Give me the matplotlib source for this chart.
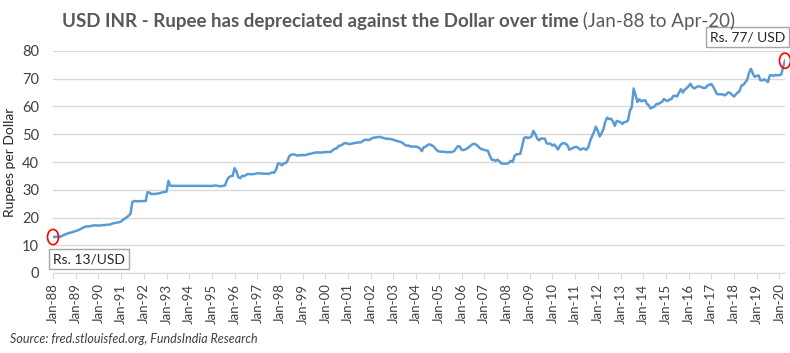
import numpy as np
import pandas as pd
import matplotlib
matplotlib.use("Agg")
import matplotlib.pyplot as plt
import matplotlib.dates as mdates
from matplotlib.patches import Ellipse

plt.rcParams['font.family'] = ['Lato', 'DejaVu Sans']

# ========== data: monthly USD/INR, Jan-88 .. Apr-20 ==========
y1988 = [12.96, 13.02, 13.08, 13.03, 13.10, 13.46, 13.76, 14.02, 14.38, 14.49, 14.66, 14.93]
y1989 = [15.12, 15.37, 15.60, 15.98, 16.35, 16.66, 16.80, 16.79, 16.92, 17.11, 17.16, 17.12]
y1990 = [17.08, 17.12, 17.25, 17.26, 17.32, 17.45, 17.43, 17.69, 17.95, 18.08, 18.18, 18.30]
y1991 = [18.52, 19.21, 19.53, 20.12, 20.62, 21.32, 25.60, 25.95, 25.87, 25.83, 25.93, 25.89]
y1992 = [25.92, 25.95, 29.10, 29.00, 28.40, 28.50, 28.50, 28.60, 28.70, 28.90, 29.10, 29.20]
y1993 = [29.30, 33.20, 31.50, 31.40, 31.40, 31.40, 31.40, 31.40, 31.40, 31.40, 31.40, 31.40]
y1994 = [31.37, 31.37, 31.37, 31.37, 31.37, 31.37, 31.37, 31.37, 31.37, 31.37, 31.40, 31.38]
y1995 = [31.38, 31.45, 31.55, 31.40, 31.30, 31.30, 31.40, 31.60, 33.50, 34.50, 34.90, 35.00]
y1996 = [37.80, 36.50, 34.50, 34.20, 35.00, 34.90, 35.30, 35.70, 35.60, 35.60, 35.60, 35.80]
y1997 = [35.90, 35.90, 35.90, 35.80, 35.80, 35.80, 35.70, 36.00, 36.30, 36.10, 37.40, 39.50]
y1998 = [39.40, 38.80, 39.50, 39.60, 40.40, 42.20, 42.60, 42.80, 42.60, 42.30, 42.40, 42.50]
y1999 = [42.50, 42.50, 42.50, 42.90, 42.90, 43.10, 43.30, 43.40, 43.50, 43.40, 43.40, 43.50]
y2000 = [43.60, 43.60, 43.60, 43.70, 44.30, 44.80, 44.90, 45.80, 45.90, 46.30, 46.80, 46.80]
y2001 = [46.50, 46.50, 46.60, 46.80, 46.90, 47.00, 47.10, 47.10, 47.70, 48.00, 48.00, 47.90]
y2002 = [48.30, 48.70, 48.80, 48.90, 49.00, 49.00, 48.80, 48.60, 48.40, 48.40, 48.30, 48.20]
y2003 = [48.00, 47.80, 47.50, 47.40, 47.20, 46.80, 46.20, 45.90, 45.90, 45.60, 45.50, 45.60]
y2004 = [45.50, 45.30, 44.90, 43.90, 45.30, 45.50, 46.10, 46.40, 46.10, 45.70, 45.00, 44.20]
y2005 = [43.80, 43.70, 43.70, 43.70, 43.50, 43.60, 43.50, 43.60, 43.90, 44.80, 45.70, 45.60]
y2006 = [44.40, 44.30, 44.50, 44.90, 45.40, 46.00, 46.50, 46.50, 46.10, 45.50, 44.80, 44.60]
y2007 = [44.30, 44.20, 44.00, 42.20, 40.80, 40.80, 40.40, 40.80, 40.30, 39.50, 39.40, 39.40]
y2008 = [39.40, 39.70, 40.40, 40.00, 42.10, 42.80, 42.80, 42.90, 45.60, 48.60, 49.00, 48.60]
y2009 = [48.80, 49.30, 51.20, 50.00, 48.50, 47.80, 48.50, 48.40, 48.40, 46.70, 46.60, 46.60]
y2010 = [45.90, 46.30, 45.50, 44.50, 45.80, 46.60, 46.80, 46.60, 46.00, 44.40, 44.80, 45.10]
y2011 = [45.40, 45.40, 44.90, 44.40, 44.90, 44.80, 44.40, 45.30, 47.60, 49.30, 50.80, 52.70]
y2012 = [51.30, 49.20, 50.30, 51.80, 54.50, 56.00, 55.50, 55.60, 54.60, 53.00, 54.80, 54.60]
y2013 = [54.30, 53.70, 54.40, 54.40, 55.00, 58.40, 59.80, 66.50, 64.00, 61.60, 62.60, 61.90]
y2014 = [62.10, 62.30, 61.00, 60.40, 59.30, 59.70, 60.00, 60.90, 60.90, 61.30, 61.70, 62.70]
y2015 = [62.20, 62.00, 62.50, 62.70, 63.80, 63.90, 63.60, 65.10, 66.20, 65.00, 66.10, 66.60]
y2016 = [67.30, 68.20, 67.00, 66.50, 66.90, 67.30, 67.20, 66.90, 66.70, 66.70, 67.60, 67.80]
y2017 = [68.10, 67.10, 65.90, 64.50, 64.40, 64.40, 64.40, 64.00, 64.40, 65.10, 64.90, 64.20]
y2018 = [63.60, 64.40, 65.00, 65.60, 67.50, 67.80, 68.70, 69.60, 72.20, 73.60, 71.80, 70.70]
y2019 = [71.00, 71.20, 69.50, 69.40, 69.80, 69.40, 68.80, 71.20, 71.30, 71.00, 71.40, 71.20]
y2020 = [71.30, 71.50, 74.30, 76.50]

inr = (y1988 + y1989 + y1990 + y1991 + y1992 + y1993 + y1994 + y1995 + y1996
       + y1997 + y1998 + y1999 + y2000 + y2001 + y2002 + y2003 + y2004 + y2005
       + y2006 + y2007 + y2008 + y2009 + y2010 + y2011 + y2012 + y2013 + y2014
       + y2015 + y2016 + y2017 + y2018 + y2019 + y2020)
dates = pd.date_range('1988-01-01', periods=len(inr), freq='MS')

start_label = "Rs. 13/USD"
end_label = "Rs. 77/ USD"

# ========== plot ==========
fig = plt.figure(figsize=(7.9, 3.53), dpi=100)
ax = fig.add_axes([53 / 790, 80 / 353, 732 / 790, 222 / 353])

ax.plot(dates, inr, color='#5b9bd5', lw=1.8, zorder=3)

ax.set_xlim(dates[0], dates[-1])
ax.set_ylim(0, 80)
ax.set_yticks(range(0, 81, 10))
ax.grid(axis='y', color='#d9d9d9', lw=1)
ax.set_axisbelow(True)
for s in ['top', 'right', 'left']:
    ax.spines[s].set_visible(False)
ax.spines['bottom'].set_color('#d9d9d9')

ax.xaxis.set_major_locator(mdates.YearLocator(1, month=1, day=1))
ax.xaxis.set_major_formatter(mdates.DateFormatter('Jan-%y'))
ax.tick_params(axis='x', rotation=90, labelsize=9.5, colors='#404040',
               length=4, color='#d9d9d9')
ax.tick_params(axis='y', length=0, labelsize=10.5, colors='#404040', pad=10)

ax.set_ylabel('Rupees per Dollar', fontsize=10, color='#262626', labelpad=4)

# red circles at start and end
x0 = mdates.date2num(dates[0])
x1 = mdates.date2num(dates[-1])
dx = 11 / 732 * (x1 - x0)
ax.add_patch(Ellipse((x0, inr[0]), dx, 5.5, fill=False, ec='red', lw=1.2,
                     clip_on=False, zorder=4))
ax.add_patch(Ellipse((x1, inr[-1]), dx, 5.5, fill=False, ec='red', lw=1.2,
                     clip_on=False, zorder=4))

box = dict(boxstyle='square,pad=0.3', fc='white', ec='#a6a6a6', lw=1)
ax.text(dates[0], 5.0, start_label, fontsize=10, color='#262626', bbox=box,
        ha='left', va='center', zorder=5)
ax.text(dates[-1], 85, end_label, fontsize=10, color='#262626', bbox=box,
        ha='right', va='center', clip_on=False, zorder=5)

# title (bold part + normal part)
t1 = fig.text(0.5, 0.94, 'USD INR - Rupee has depreciated against the Dollar over time',
              fontsize=13.5, fontweight='bold', color='#595959', ha='left', va='center')
t2 = fig.text(0.5, 0.94, ' (Jan-88 to Apr-20)', fontsize=13.5, color='#595959',
              ha='left', va='center')
fig.canvas.draw()
r = fig.canvas.get_renderer()
w1 = t1.get_window_extent(r).width
w2 = t2.get_window_extent(r).width
left = (90 + 707) / 2 - (w1 + w2) / 2
t1.set_x(left / 790)
t2.set_x((left + w1) / 790)

fig.text(10 / 790, 1 - 339 / 353, 'Source: fred.stlouisfed.org, FundsIndia Research',
         fontsize=9, style='italic', color='#404040', ha='left', va='center')

fig.savefig('out.png', dpi=100)
